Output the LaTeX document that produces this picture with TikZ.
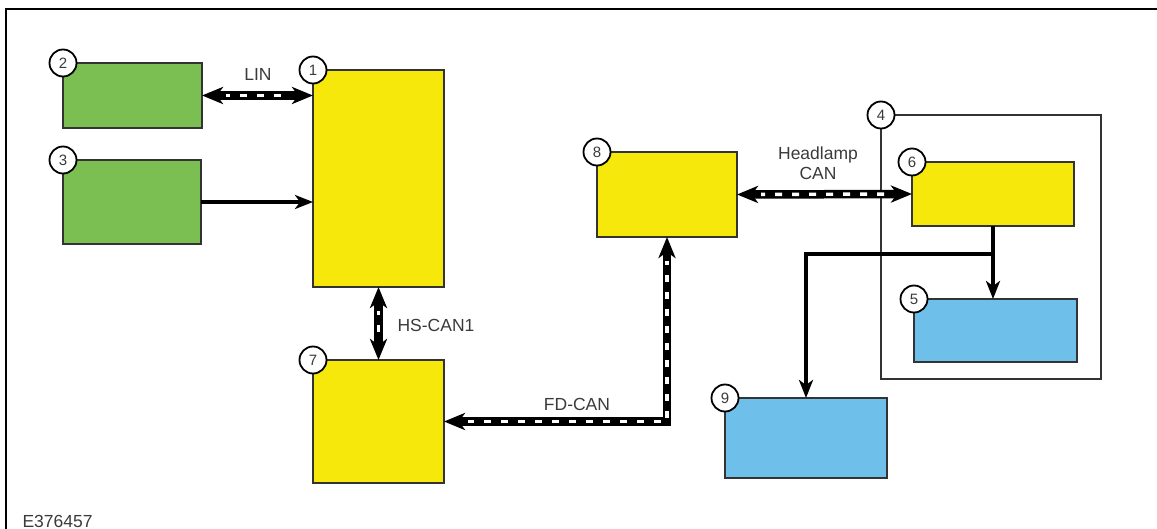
\documentclass[tikz,border=0pt]{standalone}
\usepackage{fontspec}
\setmainfont{Liberation Sans}
\usetikzlibrary{arrows.meta}
\definecolor{ylw}{HTML}{F5E80A}
\definecolor{grn}{HTML}{7BBF52}
\definecolor{blu}{HTML}{6EC0EA}
\definecolor{edge}{HTML}{333333}
\definecolor{txt}{HTML}{3A3A3A}
\tikzset{
  box/.style={draw=edge, line width=2pt, rectangle, inner sep=0pt, outer sep=0pt, anchor=north west},
  num/.style={circle, draw=black, fill=white, line width=1.8pt, minimum size=27pt, inner sep=0pt, font=\fontsize{15}{15}\selectfont, text=txt},
  lbl/.style={font=\fontsize{17.5}{20}\selectfont, text=txt, align=center},
  solidarrow/.style={draw=black, line width=3.5pt, -{Stealth[length=18pt,width=14pt,inset=5pt]}},
  bus/.style={draw=black, line width=8.5pt,
    {Stealth[length=21pt,width=17pt,inset=6pt]}-{Stealth[length=21pt,width=17pt,inset=6pt]},
    postaction={draw=white, line width=3.4pt, arrows=-, dash pattern=on 7pt off 10pt, dash phase=3pt, shorten <=24pt, shorten >=24pt}}
}
\begin{document}
\begin{tikzpicture}[x=1pt,y=-1pt]
\useasboundingbox (0,0) rectangle (1157,529);
% outer frame
\coordinate (fbl) at (6,529);
\coordinate (ftl) at (6,9);
\coordinate (ftr) at (1157,9);
\draw[black, line width=2.2pt] (fbl) -- (ftl) -- (ftr);
% module group 4
\node[box, draw=edge, line width=2.2pt, fill=none, minimum width=220pt, minimum height=264pt] (n4) at (881,115) {};
% boxes
\node[box, fill=grn, minimum width=139pt, minimum height=65pt] (n2) at (63,63) {};
\node[box, fill=grn, minimum width=138pt, minimum height=84pt] (n3) at (63,160) {};
\node[box, fill=ylw, minimum width=131pt, minimum height=217pt] (n1) at (313,70) {};
\node[box, fill=ylw, minimum width=131pt, minimum height=123pt] (n7) at (313,360) {};
\node[box, fill=ylw, minimum width=140pt, minimum height=85pt] (n8) at (597,152) {};
\node[box, fill=ylw, minimum width=162pt, minimum height=64pt] (n6) at (912,162) {};
\node[box, fill=blu, minimum width=163pt, minimum height=63pt] (n5) at (914,299) {};
\node[box, fill=blu, minimum width=162pt, minimum height=80pt] (n9) at (725,398) {};
% connectors
\draw[bus] (n2.east) -- (n1.west |- n2.east);
\draw[solidarrow] (n3.east) -- (n1.west |- n3.east);
\draw[bus] (n1.south) -- (n7.north);
\draw[bus] (n8.south) |- (n7.east);
\draw[bus] (n8.east) -- (n6.west);
\draw[solidarrow] (n6.south) -- (n6.south |- n5.north);
\coordinate (brk) at (996,254);
\draw[solidarrow] (n6.south |- brk) -| (n9.north);
% labels
\node[lbl] (lin) at (258,74) {LIN};
\node[lbl] (hcan) at (818,163) {Headlamp\\CAN};
\node[lbl] (hs) at (436,325) {HS-CAN1};
\node[lbl] (fd) at (577,404) {FD-CAN};
\node[lbl, anchor=west] (eid) at (19,521) {E376457};
% numbers
\node[num] (c1) at (n1.north west) {1};
\node[num] (c2) at (n2.north west) {2};
\node[num] (c3) at (n3.north west) {3};
\node[num] (c4) at (n4.north west) {4};
\node[num] (c5) at (n5.north west) {5};
\node[num] (c6) at (n6.north west) {6};
\node[num] (c7) at (n7.north west) {7};
\node[num] (c8) at (n8.north west) {8};
\node[num] (c9) at (n9.north west) {9};
\end{tikzpicture}
\end{document}
